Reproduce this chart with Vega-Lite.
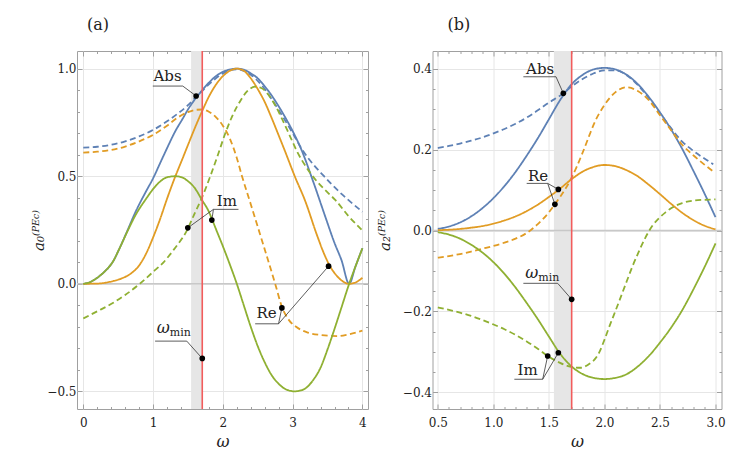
{
  "$schema": "https://vega.github.io/schema/vega-lite/v6.json",
  "padding": {"left": 31, "top": 16, "right": 5, "bottom": 5},
  "spacing": 6.5,
  "config": {
    "view": {"stroke": "#a0a0a0", "strokeWidth": 1},
    "font": "DejaVu Serif",
    "axis": {
      "domain": false,
      "labelFont": "DejaVu Serif",
      "labelFontSize": 12,
      "labelColor": "#222222",
      "tickColor": "#a0a0a0",
      "tickSize": -5,
      "gridColor": "#e6e6e6",
      "titleFont": "DejaVu Serif",
      "titleFontWeight": "normal",
      "titleColor": "#222222",
      "labelFlush": false,
      "labelOverlap": false
    },
    "title": {"font": "DejaVu Serif", "fontSize": 16, "fontWeight": "normal", "color": "#222222"},
    "text": {"font": "DejaVu Serif", "color": "#222222"}
  },
  "datasets": {
    "curvesA": [
      {"w":0,"v":0.633,"part":"Abs","kind":"approx"},{"w":0.2,"v":0.637,"part":"Abs","kind":"approx"},{"w":0.4,"v":0.646,"part":"Abs","kind":"approx"},{"w":0.6,"v":0.662,"part":"Abs","kind":"approx"},{"w":0.8,"v":0.685,"part":"Abs","kind":"approx"},{"w":1.0,"v":0.715,"part":"Abs","kind":"approx"},{"w":1.2,"v":0.755,"part":"Abs","kind":"approx"},{"w":1.35,"v":0.79,"part":"Abs","kind":"approx"},{"w":1.5,"v":0.83,"part":"Abs","kind":"approx"},{"w":1.62,"v":0.87,"part":"Abs","kind":"approx"},{"w":1.7,"v":0.895,"part":"Abs","kind":"approx"},{"w":1.8,"v":0.927,"part":"Abs","kind":"approx"},{"w":1.9,"v":0.955,"part":"Abs","kind":"approx"},{"w":2.0,"v":0.977,"part":"Abs","kind":"approx"},{"w":2.1,"v":0.992,"part":"Abs","kind":"approx"},{"w":2.2,"v":0.997,"part":"Abs","kind":"approx"},{"w":2.3,"v":0.99,"part":"Abs","kind":"approx"},{"w":2.4,"v":0.972,"part":"Abs","kind":"approx"},{"w":2.5,"v":0.943,"part":"Abs","kind":"approx"},{"w":2.6,"v":0.905,"part":"Abs","kind":"approx"},{"w":2.7,"v":0.858,"part":"Abs","kind":"approx"},{"w":2.8,"v":0.808,"part":"Abs","kind":"approx"},{"w":2.9,"v":0.755,"part":"Abs","kind":"approx"},{"w":3.0,"v":0.7,"part":"Abs","kind":"approx"},{"w":3.15,"v":0.617,"part":"Abs","kind":"approx"},{"w":3.3,"v":0.553,"part":"Abs","kind":"approx"},{"w":3.45,"v":0.5,"part":"Abs","kind":"approx"},{"w":3.56,"v":0.462,"part":"Abs","kind":"approx"},{"w":3.7,"v":0.418,"part":"Abs","kind":"approx"},{"w":3.85,"v":0.375,"part":"Abs","kind":"approx"},{"w":4.0,"v":0.335,"part":"Abs","kind":"approx"},
      {"w":0,"v":0,"part":"Abs","kind":"exact"},{"w":0.1,"v":0.008,"part":"Abs","kind":"exact"},{"w":0.2,"v":0.028,"part":"Abs","kind":"exact"},{"w":0.3,"v":0.055,"part":"Abs","kind":"exact"},{"w":0.43,"v":0.106,"part":"Abs","kind":"exact"},{"w":0.52,"v":0.165,"part":"Abs","kind":"exact"},{"w":0.62,"v":0.238,"part":"Abs","kind":"exact"},{"w":0.75,"v":0.335,"part":"Abs","kind":"exact"},{"w":0.9,"v":0.43,"part":"Abs","kind":"exact"},{"w":1.0,"v":0.49,"part":"Abs","kind":"exact"},{"w":1.1,"v":0.56,"part":"Abs","kind":"exact"},{"w":1.2,"v":0.63,"part":"Abs","kind":"exact"},{"w":1.32,"v":0.71,"part":"Abs","kind":"exact"},{"w":1.42,"v":0.765,"part":"Abs","kind":"exact"},{"w":1.5,"v":0.81,"part":"Abs","kind":"exact"},{"w":1.62,"v":0.866,"part":"Abs","kind":"exact"},{"w":1.7,"v":0.898,"part":"Abs","kind":"exact"},{"w":1.8,"v":0.935,"part":"Abs","kind":"exact"},{"w":1.9,"v":0.965,"part":"Abs","kind":"exact"},{"w":2.0,"v":0.985,"part":"Abs","kind":"exact"},{"w":2.1,"v":0.996,"part":"Abs","kind":"exact"},{"w":2.2,"v":1.0,"part":"Abs","kind":"exact"},{"w":2.3,"v":0.995,"part":"Abs","kind":"exact"},{"w":2.4,"v":0.978,"part":"Abs","kind":"exact"},{"w":2.5,"v":0.955,"part":"Abs","kind":"exact"},{"w":2.6,"v":0.918,"part":"Abs","kind":"exact"},{"w":2.7,"v":0.875,"part":"Abs","kind":"exact"},{"w":2.8,"v":0.825,"part":"Abs","kind":"exact"},{"w":2.9,"v":0.77,"part":"Abs","kind":"exact"},{"w":3.0,"v":0.71,"part":"Abs","kind":"exact"},{"w":3.13,"v":0.62,"part":"Abs","kind":"exact"},{"w":3.3,"v":0.47,"part":"Abs","kind":"exact"},{"w":3.47,"v":0.31,"part":"Abs","kind":"exact"},{"w":3.6,"v":0.19,"part":"Abs","kind":"exact"},{"w":3.7,"v":0.11,"part":"Abs","kind":"exact"},{"w":3.81,"v":0.0,"part":"Abs","kind":"exact"},{"w":3.9,"v":0.08,"part":"Abs","kind":"exact"},{"w":4.0,"v":0.165,"part":"Abs","kind":"exact"},
      {"w":0,"v":0.61,"part":"Re","kind":"approx"},{"w":0.2,"v":0.614,"part":"Re","kind":"approx"},{"w":0.4,"v":0.622,"part":"Re","kind":"approx"},{"w":0.6,"v":0.638,"part":"Re","kind":"approx"},{"w":0.8,"v":0.662,"part":"Re","kind":"approx"},{"w":1.0,"v":0.692,"part":"Re","kind":"approx"},{"w":1.2,"v":0.735,"part":"Re","kind":"approx"},{"w":1.35,"v":0.772,"part":"Re","kind":"approx"},{"w":1.5,"v":0.798,"part":"Re","kind":"approx"},{"w":1.6,"v":0.808,"part":"Re","kind":"approx"},{"w":1.7,"v":0.81,"part":"Re","kind":"approx"},{"w":1.8,"v":0.8,"part":"Re","kind":"approx"},{"w":1.9,"v":0.775,"part":"Re","kind":"approx"},{"w":2.0,"v":0.735,"part":"Re","kind":"approx"},{"w":2.1,"v":0.675,"part":"Re","kind":"approx"},{"w":2.2,"v":0.585,"part":"Re","kind":"approx"},{"w":2.27,"v":0.505,"part":"Re","kind":"approx"},{"w":2.4,"v":0.37,"part":"Re","kind":"approx"},{"w":2.5,"v":0.265,"part":"Re","kind":"approx"},{"w":2.6,"v":0.16,"part":"Re","kind":"approx"},{"w":2.75,"v":0.0,"part":"Re","kind":"approx"},{"w":2.85,"v":-0.11,"part":"Re","kind":"approx"},{"w":2.95,"v":-0.17,"part":"Re","kind":"approx"},{"w":3.05,"v":-0.2,"part":"Re","kind":"approx"},{"w":3.2,"v":-0.225,"part":"Re","kind":"approx"},{"w":3.4,"v":-0.238,"part":"Re","kind":"approx"},{"w":3.64,"v":-0.243,"part":"Re","kind":"approx"},{"w":3.8,"v":-0.235,"part":"Re","kind":"approx"},{"w":4.0,"v":-0.218,"part":"Re","kind":"approx"},
      {"w":0,"v":0,"part":"Re","kind":"exact"},{"w":0.2,"v":0.001,"part":"Re","kind":"exact"},{"w":0.43,"v":0.013,"part":"Re","kind":"exact"},{"w":0.55,"v":0.025,"part":"Re","kind":"exact"},{"w":0.67,"v":0.045,"part":"Re","kind":"exact"},{"w":0.8,"v":0.085,"part":"Re","kind":"exact"},{"w":0.9,"v":0.14,"part":"Re","kind":"exact"},{"w":1.0,"v":0.215,"part":"Re","kind":"exact"},{"w":1.1,"v":0.3,"part":"Re","kind":"exact"},{"w":1.2,"v":0.395,"part":"Re","kind":"exact"},{"w":1.32,"v":0.5,"part":"Re","kind":"exact"},{"w":1.42,"v":0.58,"part":"Re","kind":"exact"},{"w":1.5,"v":0.645,"part":"Re","kind":"exact"},{"w":1.6,"v":0.725,"part":"Re","kind":"exact"},{"w":1.7,"v":0.8,"part":"Re","kind":"exact"},{"w":1.8,"v":0.87,"part":"Re","kind":"exact"},{"w":1.9,"v":0.925,"part":"Re","kind":"exact"},{"w":2.0,"v":0.965,"part":"Re","kind":"exact"},{"w":2.1,"v":0.99,"part":"Re","kind":"exact"},{"w":2.2,"v":1.0,"part":"Re","kind":"exact"},{"w":2.3,"v":0.99,"part":"Re","kind":"exact"},{"w":2.4,"v":0.955,"part":"Re","kind":"exact"},{"w":2.5,"v":0.905,"part":"Re","kind":"exact"},{"w":2.6,"v":0.845,"part":"Re","kind":"exact"},{"w":2.7,"v":0.77,"part":"Re","kind":"exact"},{"w":2.8,"v":0.69,"part":"Re","kind":"exact"},{"w":2.89,"v":0.617,"part":"Re","kind":"exact"},{"w":3.03,"v":0.5,"part":"Re","kind":"exact"},{"w":3.18,"v":0.385,"part":"Re","kind":"exact"},{"w":3.35,"v":0.225,"part":"Re","kind":"exact"},{"w":3.45,"v":0.14,"part":"Re","kind":"exact"},{"w":3.53,"v":0.085,"part":"Re","kind":"exact"},{"w":3.62,"v":0.042,"part":"Re","kind":"exact"},{"w":3.7,"v":0.016,"part":"Re","kind":"exact"},{"w":3.81,"v":0.0,"part":"Re","kind":"exact"},{"w":3.9,"v":0.006,"part":"Re","kind":"exact"},{"w":4.0,"v":0.028,"part":"Re","kind":"exact"},
      {"w":0,"v":-0.161,"part":"Im","kind":"approx"},{"w":0.2,"v":-0.128,"part":"Im","kind":"approx"},{"w":0.43,"v":-0.088,"part":"Im","kind":"approx"},{"w":0.6,"v":-0.052,"part":"Im","kind":"approx"},{"w":0.81,"v":0.0,"part":"Im","kind":"approx"},{"w":1.0,"v":0.055,"part":"Im","kind":"approx"},{"w":1.15,"v":0.1,"part":"Im","kind":"approx"},{"w":1.3,"v":0.16,"part":"Im","kind":"approx"},{"w":1.48,"v":0.245,"part":"Im","kind":"approx"},{"w":1.6,"v":0.33,"part":"Im","kind":"approx"},{"w":1.7,"v":0.4,"part":"Im","kind":"approx"},{"w":1.82,"v":0.5,"part":"Im","kind":"approx"},{"w":1.93,"v":0.6,"part":"Im","kind":"approx"},{"w":2.03,"v":0.695,"part":"Im","kind":"approx"},{"w":2.15,"v":0.79,"part":"Im","kind":"approx"},{"w":2.25,"v":0.85,"part":"Im","kind":"approx"},{"w":2.35,"v":0.895,"part":"Im","kind":"approx"},{"w":2.46,"v":0.916,"part":"Im","kind":"approx"},{"w":2.55,"v":0.91,"part":"Im","kind":"approx"},{"w":2.65,"v":0.88,"part":"Im","kind":"approx"},{"w":2.75,"v":0.83,"part":"Im","kind":"approx"},{"w":2.85,"v":0.765,"part":"Im","kind":"approx"},{"w":2.95,"v":0.695,"part":"Im","kind":"approx"},{"w":3.06,"v":0.617,"part":"Im","kind":"approx"},{"w":3.2,"v":0.54,"part":"Im","kind":"approx"},{"w":3.35,"v":0.475,"part":"Im","kind":"approx"},{"w":3.5,"v":0.425,"part":"Im","kind":"approx"},{"w":3.61,"v":0.39,"part":"Im","kind":"approx"},{"w":3.8,"v":0.315,"part":"Im","kind":"approx"},{"w":4.0,"v":0.248,"part":"Im","kind":"approx"},
      {"w":0,"v":0,"part":"Im","kind":"exact"},{"w":0.1,"v":0.008,"part":"Im","kind":"exact"},{"w":0.2,"v":0.028,"part":"Im","kind":"exact"},{"w":0.3,"v":0.055,"part":"Im","kind":"exact"},{"w":0.43,"v":0.106,"part":"Im","kind":"exact"},{"w":0.52,"v":0.165,"part":"Im","kind":"exact"},{"w":0.62,"v":0.235,"part":"Im","kind":"exact"},{"w":0.75,"v":0.32,"part":"Im","kind":"exact"},{"w":0.9,"v":0.395,"part":"Im","kind":"exact"},{"w":1.0,"v":0.44,"part":"Im","kind":"exact"},{"w":1.1,"v":0.475,"part":"Im","kind":"exact"},{"w":1.2,"v":0.495,"part":"Im","kind":"exact"},{"w":1.32,"v":0.5,"part":"Im","kind":"exact"},{"w":1.42,"v":0.494,"part":"Im","kind":"exact"},{"w":1.5,"v":0.477,"part":"Im","kind":"exact"},{"w":1.6,"v":0.444,"part":"Im","kind":"exact"},{"w":1.7,"v":0.39,"part":"Im","kind":"exact"},{"w":1.8,"v":0.335,"part":"Im","kind":"exact"},{"w":1.85,"v":0.296,"part":"Im","kind":"exact"},{"w":1.9,"v":0.255,"part":"Im","kind":"exact"},{"w":2.0,"v":0.175,"part":"Im","kind":"exact"},{"w":2.1,"v":0.09,"part":"Im","kind":"exact"},{"w":2.2,"v":0.0,"part":"Im","kind":"exact"},{"w":2.3,"v":-0.1,"part":"Im","kind":"exact"},{"w":2.4,"v":-0.2,"part":"Im","kind":"exact"},{"w":2.5,"v":-0.29,"part":"Im","kind":"exact"},{"w":2.6,"v":-0.365,"part":"Im","kind":"exact"},{"w":2.7,"v":-0.425,"part":"Im","kind":"exact"},{"w":2.8,"v":-0.465,"part":"Im","kind":"exact"},{"w":2.9,"v":-0.49,"part":"Im","kind":"exact"},{"w":3.03,"v":-0.5,"part":"Im","kind":"exact"},{"w":3.1,"v":-0.497,"part":"Im","kind":"exact"},{"w":3.18,"v":-0.487,"part":"Im","kind":"exact"},{"w":3.3,"v":-0.445,"part":"Im","kind":"exact"},{"w":3.4,"v":-0.39,"part":"Im","kind":"exact"},{"w":3.5,"v":-0.305,"part":"Im","kind":"exact"},{"w":3.6,"v":-0.21,"part":"Im","kind":"exact"},{"w":3.7,"v":-0.11,"part":"Im","kind":"exact"},{"w":3.81,"v":0.0,"part":"Im","kind":"exact"},{"w":3.9,"v":0.08,"part":"Im","kind":"exact"},{"w":4.0,"v":0.165,"part":"Im","kind":"exact"}
    ],
    "curvesB": [
      {"w":0.5,"v":0.204,"part":"Abs","kind":"approx"},{"w":0.6,"v":0.209,"part":"Abs","kind":"approx"},{"w":0.7,"v":0.215,"part":"Abs","kind":"approx"},{"w":0.8,"v":0.222,"part":"Abs","kind":"approx"},{"w":0.9,"v":0.23,"part":"Abs","kind":"approx"},{"w":1.0,"v":0.24,"part":"Abs","kind":"approx"},{"w":1.1,"v":0.251,"part":"Abs","kind":"approx"},{"w":1.2,"v":0.264,"part":"Abs","kind":"approx"},{"w":1.3,"v":0.279,"part":"Abs","kind":"approx"},{"w":1.4,"v":0.297,"part":"Abs","kind":"approx"},{"w":1.5,"v":0.316,"part":"Abs","kind":"approx"},{"w":1.63,"v":0.339,"part":"Abs","kind":"approx"},{"w":1.7,"v":0.355,"part":"Abs","kind":"approx"},{"w":1.8,"v":0.374,"part":"Abs","kind":"approx"},{"w":1.9,"v":0.388,"part":"Abs","kind":"approx"},{"w":2.0,"v":0.396,"part":"Abs","kind":"approx"},{"w":2.1,"v":0.396,"part":"Abs","kind":"approx"},{"w":2.2,"v":0.384,"part":"Abs","kind":"approx"},{"w":2.3,"v":0.36,"part":"Abs","kind":"approx"},{"w":2.4,"v":0.327,"part":"Abs","kind":"approx"},{"w":2.5,"v":0.29,"part":"Abs","kind":"approx"},{"w":2.6,"v":0.253,"part":"Abs","kind":"approx"},{"w":2.66,"v":0.232,"part":"Abs","kind":"approx"},{"w":2.7,"v":0.22,"part":"Abs","kind":"approx"},{"w":2.8,"v":0.197,"part":"Abs","kind":"approx"},{"w":2.9,"v":0.178,"part":"Abs","kind":"approx"},{"w":2.98,"v":0.164,"part":"Abs","kind":"approx"},
      {"w":0.5,"v":0.004,"part":"Abs","kind":"exact"},{"w":0.6,"v":0.01,"part":"Abs","kind":"exact"},{"w":0.7,"v":0.02,"part":"Abs","kind":"exact"},{"w":0.8,"v":0.035,"part":"Abs","kind":"exact"},{"w":0.9,"v":0.055,"part":"Abs","kind":"exact"},{"w":1.0,"v":0.08,"part":"Abs","kind":"exact"},{"w":1.1,"v":0.11,"part":"Abs","kind":"exact"},{"w":1.2,"v":0.145,"part":"Abs","kind":"exact"},{"w":1.3,"v":0.185,"part":"Abs","kind":"exact"},{"w":1.4,"v":0.228,"part":"Abs","kind":"exact"},{"w":1.5,"v":0.275,"part":"Abs","kind":"exact"},{"w":1.6,"v":0.322,"part":"Abs","kind":"exact"},{"w":1.7,"v":0.36,"part":"Abs","kind":"exact"},{"w":1.8,"v":0.384,"part":"Abs","kind":"exact"},{"w":1.9,"v":0.398,"part":"Abs","kind":"exact"},{"w":2.0,"v":0.402,"part":"Abs","kind":"exact"},{"w":2.1,"v":0.398,"part":"Abs","kind":"exact"},{"w":2.2,"v":0.385,"part":"Abs","kind":"exact"},{"w":2.3,"v":0.362,"part":"Abs","kind":"exact"},{"w":2.4,"v":0.33,"part":"Abs","kind":"exact"},{"w":2.5,"v":0.292,"part":"Abs","kind":"exact"},{"w":2.6,"v":0.25,"part":"Abs","kind":"exact"},{"w":2.7,"v":0.202,"part":"Abs","kind":"exact"},{"w":2.8,"v":0.148,"part":"Abs","kind":"exact"},{"w":2.9,"v":0.092,"part":"Abs","kind":"exact"},{"w":3.0,"v":0.033,"part":"Abs","kind":"exact"},
      {"w":0.5,"v":-0.067,"part":"Re","kind":"approx"},{"w":0.6,"v":-0.063,"part":"Re","kind":"approx"},{"w":0.7,"v":-0.058,"part":"Re","kind":"approx"},{"w":0.8,"v":-0.052,"part":"Re","kind":"approx"},{"w":0.9,"v":-0.045,"part":"Re","kind":"approx"},{"w":1.0,"v":-0.038,"part":"Re","kind":"approx"},{"w":1.1,"v":-0.03,"part":"Re","kind":"approx"},{"w":1.2,"v":-0.02,"part":"Re","kind":"approx"},{"w":1.3,"v":-0.006,"part":"Re","kind":"approx"},{"w":1.4,"v":0.016,"part":"Re","kind":"approx"},{"w":1.5,"v":0.045,"part":"Re","kind":"approx"},{"w":1.554,"v":0.065,"part":"Re","kind":"approx"},{"w":1.6,"v":0.083,"part":"Re","kind":"approx"},{"w":1.7,"v":0.128,"part":"Re","kind":"approx"},{"w":1.8,"v":0.19,"part":"Re","kind":"approx"},{"w":1.864,"v":0.235,"part":"Re","kind":"approx"},{"w":1.9,"v":0.26,"part":"Re","kind":"approx"},{"w":2.0,"v":0.31,"part":"Re","kind":"approx"},{"w":2.1,"v":0.342,"part":"Re","kind":"approx"},{"w":2.194,"v":0.354,"part":"Re","kind":"approx"},{"w":2.3,"v":0.345,"part":"Re","kind":"approx"},{"w":2.4,"v":0.322,"part":"Re","kind":"approx"},{"w":2.5,"v":0.285,"part":"Re","kind":"approx"},{"w":2.6,"v":0.248,"part":"Re","kind":"approx"},{"w":2.7,"v":0.212,"part":"Re","kind":"approx"},{"w":2.8,"v":0.186,"part":"Re","kind":"approx"},{"w":2.9,"v":0.163,"part":"Re","kind":"approx"},{"w":2.975,"v":0.147,"part":"Re","kind":"approx"},
      {"w":0.5,"v":0.001,"part":"Re","kind":"exact"},{"w":0.6,"v":0.002,"part":"Re","kind":"exact"},{"w":0.7,"v":0.004,"part":"Re","kind":"exact"},{"w":0.8,"v":0.007,"part":"Re","kind":"exact"},{"w":0.9,"v":0.011,"part":"Re","kind":"exact"},{"w":1.0,"v":0.017,"part":"Re","kind":"exact"},{"w":1.1,"v":0.025,"part":"Re","kind":"exact"},{"w":1.2,"v":0.035,"part":"Re","kind":"exact"},{"w":1.3,"v":0.048,"part":"Re","kind":"exact"},{"w":1.4,"v":0.064,"part":"Re","kind":"exact"},{"w":1.5,"v":0.083,"part":"Re","kind":"exact"},{"w":1.584,"v":0.1,"part":"Re","kind":"exact"},{"w":1.7,"v":0.126,"part":"Re","kind":"exact"},{"w":1.8,"v":0.145,"part":"Re","kind":"exact"},{"w":1.9,"v":0.157,"part":"Re","kind":"exact"},{"w":2.0,"v":0.162,"part":"Re","kind":"exact"},{"w":2.1,"v":0.159,"part":"Re","kind":"exact"},{"w":2.2,"v":0.149,"part":"Re","kind":"exact"},{"w":2.3,"v":0.134,"part":"Re","kind":"exact"},{"w":2.4,"v":0.113,"part":"Re","kind":"exact"},{"w":2.5,"v":0.09,"part":"Re","kind":"exact"},{"w":2.6,"v":0.066,"part":"Re","kind":"exact"},{"w":2.7,"v":0.044,"part":"Re","kind":"exact"},{"w":2.8,"v":0.026,"part":"Re","kind":"exact"},{"w":2.9,"v":0.012,"part":"Re","kind":"exact"},{"w":3.0,"v":0.003,"part":"Re","kind":"exact"},
      {"w":0.5,"v":-0.19,"part":"Im","kind":"approx"},{"w":0.6,"v":-0.196,"part":"Im","kind":"approx"},{"w":0.7,"v":-0.203,"part":"Im","kind":"approx"},{"w":0.8,"v":-0.211,"part":"Im","kind":"approx"},{"w":0.9,"v":-0.221,"part":"Im","kind":"approx"},{"w":1.0,"v":-0.232,"part":"Im","kind":"approx"},{"w":1.1,"v":-0.244,"part":"Im","kind":"approx"},{"w":1.2,"v":-0.258,"part":"Im","kind":"approx"},{"w":1.3,"v":-0.274,"part":"Im","kind":"approx"},{"w":1.4,"v":-0.292,"part":"Im","kind":"approx"},{"w":1.49,"v":-0.31,"part":"Im","kind":"approx"},{"w":1.6,"v":-0.327,"part":"Im","kind":"approx"},{"w":1.7,"v":-0.337,"part":"Im","kind":"approx"},{"w":1.78,"v":-0.339,"part":"Im","kind":"approx"},{"w":1.85,"v":-0.332,"part":"Im","kind":"approx"},{"w":1.95,"v":-0.303,"part":"Im","kind":"approx"},{"w":2.0,"v":-0.27,"part":"Im","kind":"approx"},{"w":2.05,"v":-0.233,"part":"Im","kind":"approx"},{"w":2.1,"v":-0.198,"part":"Im","kind":"approx"},{"w":2.2,"v":-0.126,"part":"Im","kind":"approx"},{"w":2.25,"v":-0.09,"part":"Im","kind":"approx"},{"w":2.3,"v":-0.058,"part":"Im","kind":"approx"},{"w":2.37,"v":-0.017,"part":"Im","kind":"approx"},{"w":2.43,"v":0.011,"part":"Im","kind":"approx"},{"w":2.5,"v":0.033,"part":"Im","kind":"approx"},{"w":2.55,"v":0.045,"part":"Im","kind":"approx"},{"w":2.6,"v":0.055,"part":"Im","kind":"approx"},{"w":2.7,"v":0.068,"part":"Im","kind":"approx"},{"w":2.8,"v":0.074,"part":"Im","kind":"approx"},{"w":2.9,"v":0.076,"part":"Im","kind":"approx"},{"w":3.0,"v":0.077,"part":"Im","kind":"approx"},
      {"w":0.5,"v":-0.004,"part":"Im","kind":"exact"},{"w":0.6,"v":-0.01,"part":"Im","kind":"exact"},{"w":0.7,"v":-0.02,"part":"Im","kind":"exact"},{"w":0.8,"v":-0.035,"part":"Im","kind":"exact"},{"w":0.9,"v":-0.054,"part":"Im","kind":"exact"},{"w":1.0,"v":-0.078,"part":"Im","kind":"exact"},{"w":1.1,"v":-0.107,"part":"Im","kind":"exact"},{"w":1.2,"v":-0.141,"part":"Im","kind":"exact"},{"w":1.3,"v":-0.179,"part":"Im","kind":"exact"},{"w":1.4,"v":-0.219,"part":"Im","kind":"exact"},{"w":1.5,"v":-0.262,"part":"Im","kind":"exact"},{"w":1.6,"v":-0.304,"part":"Im","kind":"exact"},{"w":1.7,"v":-0.335,"part":"Im","kind":"exact"},{"w":1.8,"v":-0.354,"part":"Im","kind":"exact"},{"w":1.9,"v":-0.364,"part":"Im","kind":"exact"},{"w":2.0,"v":-0.367,"part":"Im","kind":"exact"},{"w":2.1,"v":-0.364,"part":"Im","kind":"exact"},{"w":2.2,"v":-0.355,"part":"Im","kind":"exact"},{"w":2.3,"v":-0.336,"part":"Im","kind":"exact"},{"w":2.4,"v":-0.31,"part":"Im","kind":"exact"},{"w":2.5,"v":-0.277,"part":"Im","kind":"exact"},{"w":2.6,"v":-0.24,"part":"Im","kind":"exact"},{"w":2.7,"v":-0.197,"part":"Im","kind":"exact"},{"w":2.8,"v":-0.146,"part":"Im","kind":"exact"},{"w":2.9,"v":-0.091,"part":"Im","kind":"exact"},{"w":3.0,"v":-0.032,"part":"Im","kind":"exact"}
    ],
    "leadA": [
      {"x":0.996,"y":0.919,"x2":1.426,"y2":0.919},{"x":1.426,"y":0.919,"x2":1.617,"y2":0.873},
      {"x":1.865,"y":0.346,"x2":2.224,"y2":0.346},{"x":1.865,"y":0.346,"x2":1.498,"y2":0.26},{"x":1.865,"y":0.346,"x2":1.842,"y2":0.296},
      {"x":1.029,"y":-0.2665,"x2":1.483,"y2":-0.2665},{"x":1.483,"y":-0.2665,"x2":1.705,"y2":-0.347},
      {"x":2.463,"y":-0.186,"x2":2.798,"y2":-0.186},{"x":2.798,"y":-0.186,"x2":2.846,"y2":-0.112},{"x":2.798,"y":-0.186,"x2":3.515,"y2":0.082}
    ],
    "dotA": [
      {"x":1.617,"y":0.873},{"x":1.498,"y":0.26},{"x":1.842,"y":0.296},{"x":1.705,"y":-0.347},{"x":2.846,"y":-0.112},{"x":3.515,"y":0.082}
    ],
    "textA": [
      {"x":1.208,"y":0.943,"label":"Abs"},{"x":2.057,"y":0.361,"label":"Im"},{"x":2.626,"y":-0.161,"label":"Re"}
    ],
    "omegaA": [{"x":1.053,"y":-0.228}],
    "leadB": [
      {"x":1.27,"y":0.38,"x2":1.564,"y2":0.38},{"x":1.564,"y":0.38,"x2":1.63,"y2":0.339},
      {"x":1.3,"y":0.1165,"x2":1.489,"y2":0.1165},{"x":1.489,"y":0.1165,"x2":1.585,"y2":0.1017},{"x":1.489,"y":0.1165,"x2":1.554,"y2":0.0647},
      {"x":1.27,"y":-0.1304,"x2":1.579,"y2":-0.1304},{"x":1.579,"y":-0.1304,"x2":1.705,"y2":-0.17},
      {"x":1.189,"y":-0.3675,"x2":1.444,"y2":-0.3675},{"x":1.444,"y":-0.3675,"x2":1.489,"y2":-0.31},{"x":1.444,"y":-0.3675,"x2":1.585,"y2":-0.302}
    ],
    "dotB": [
      {"x":1.63,"y":0.339},{"x":1.585,"y":0.1017},{"x":1.554,"y":0.0647},{"x":1.705,"y":-0.17},{"x":1.489,"y":-0.31},{"x":1.585,"y":-0.302}
    ],
    "textB": [
      {"x":1.421,"y":0.3857,"label":"Abs"},{"x":1.403,"y":0.1222,"label":"Re"},{"x":1.308,"y":-0.357,"label":"Im"}
    ],
    "omegaB": [{"x":1.288,"y":-0.1165}]
  },
  "hconcat": [
    {
      "width": 291,
      "height": 358,
      "title": {"text": "(a)", "anchor": "start", "frame": "group", "dx": 10, "offset": 17},
      "resolve": {"axis": {"x": "independent", "y": "independent"}},
      "layer": [
        {
          "data": {"values": [{"lo": 1.545, "hi": 1.705}]},
          "mark": {"type": "rect", "color": "#e6e6e6"},
          "encoding": {
            "x": {
              "field": "lo", "type": "quantitative",
              "scale": {"domain": [-0.09, 4.08], "nice": false, "zero": false},
              "axis": {
                "orient": "bottom", "values": [0, 1, 2, 3, 4], "format": "d",
                "labelPadding": 13, "grid": true,
                "title": "ω", "titleFontStyle": "italic", "titleFontSize": 16, "titlePadding": 5
              }
            },
            "x2": {"field": "hi"}
          }
        },
        {
          "data": {"values": [{"z": 0}]},
          "mark": {"type": "rule", "color": "#c8c8c8", "strokeWidth": 1.5},
          "encoding": {
            "y": {
              "field": "z", "type": "quantitative",
              "scale": {"domain": [-0.582, 1.082], "nice": false, "zero": false},
              "axis": {
                "orient": "left", "values": [-0.5, 0, 0.5, 1], "format": ".1f",
                "labelPadding": 6, "grid": true,
                "title": "a₀⁽ᴾᴱᶜ⁾", "titleFontStyle": "italic", "titleFontSize": 15, "titlePadding": 0
              }
            }
          }
        },
        {
          "data": {"name": "curvesA"},
          "mark": {"type": "line", "strokeWidth": 1.8, "interpolate": "monotone"},
          "encoding": {
            "x": {
              "field": "w", "type": "quantitative",
              "axis": {"orient": "top", "labels": false, "title": null, "grid": false, "minExtent": 0, "values": [0, 1, 2, 3, 4]}
            },
            "y": {
              "field": "v", "type": "quantitative",
              "axis": {"orient": "right", "labels": false, "title": null, "grid": false, "minExtent": 0, "values": [-0.5, 0, 0.5, 1]}
            },
            "color": {"field": "part", "type": "nominal", "scale": {"domain": ["Abs", "Re", "Im"], "range": ["#5E81B5", "#E19C24", "#8FB032"]}, "legend": null},
            "strokeDash": {"field": "kind", "type": "nominal", "scale": {"domain": ["exact", "approx"], "range": [[1, 0], [6, 3.5]]}, "legend": null}
          }
        },
        {
          "data": {"values": [{"xr": 1.705}]},
          "mark": {"type": "rule", "color": "#F25C5C", "strokeWidth": 1.6},
          "encoding": {
            "x": {
              "field": "xr", "type": "quantitative",
              "axis": {"orient": "bottom", "labels": false, "title": null, "grid": false, "minExtent": 0, "tickSize": -2.5,
                "values": [0.2,0.4,0.6,0.8,1.2,1.4,1.6,1.8,2.2,2.4,2.6,2.8,3.2,3.4,3.6,3.8]}
            }
          }
        },
        {
          "data": {"name": "leadA"},
          "mark": {"type": "rule", "color": "#333333", "strokeWidth": 0.8},
          "encoding": {
            "x": {
              "field": "x", "type": "quantitative",
              "axis": {"orient": "top", "labels": false, "title": null, "grid": false, "minExtent": 0, "tickSize": -2.5,
                "values": [0.2,0.4,0.6,0.8,1.2,1.4,1.6,1.8,2.2,2.4,2.6,2.8,3.2,3.4,3.6,3.8]}
            },
            "y": {
              "field": "y", "type": "quantitative",
              "axis": {"orient": "left", "labels": false, "title": null, "grid": false, "minExtent": 0, "tickSize": -2.5,
                "values": [-0.4,-0.3,-0.2,-0.1,0.1,0.2,0.3,0.4,0.6,0.7,0.8,0.9]}
            },
            "x2": {"field": "x2"},
            "y2": {"field": "y2"}
          }
        },
        {
          "data": {"name": "dotA"},
          "mark": {"type": "point", "filled": true, "color": "black", "size": 32, "opacity": 1},
          "encoding": {
            "x": {"field": "x", "type": "quantitative", "axis": null},
            "y": {
              "field": "y", "type": "quantitative",
              "axis": {"orient": "right", "labels": false, "title": null, "grid": false, "minExtent": 0, "tickSize": -2.5,
                "values": [-0.4,-0.3,-0.2,-0.1,0.1,0.2,0.3,0.4,0.6,0.7,0.8,0.9]}
            }
          }
        },
        {
          "data": {"name": "textA"},
          "mark": {"type": "text", "fontSize": 15, "align": "center", "baseline": "alphabetic"},
          "encoding": {
            "x": {"field": "x", "type": "quantitative", "axis": null},
            "y": {"field": "y", "type": "quantitative", "axis": null},
            "text": {"field": "label"}
          }
        },
        {
          "data": {"name": "omegaA"},
          "mark": {"type": "text", "fontSize": 16, "fontStyle": "italic", "align": "left", "baseline": "alphabetic", "text": "ω"},
          "encoding": {
            "x": {"field": "x", "type": "quantitative", "axis": null},
            "y": {"field": "y", "type": "quantitative", "axis": null}
          }
        },
        {
          "data": {"name": "omegaA"},
          "mark": {"type": "text", "fontSize": 11, "align": "left", "baseline": "alphabetic", "dx": 13, "dy": 3, "text": "min"},
          "encoding": {
            "x": {"field": "x", "type": "quantitative", "axis": null},
            "y": {"field": "y", "type": "quantitative", "axis": null}
          }
        }
      ]
    },
    {
      "width": 289,
      "height": 358,
      "title": {"text": "(b)", "anchor": "start", "frame": "group", "dx": 15, "offset": 17},
      "resolve": {"axis": {"x": "independent", "y": "independent"}},
      "layer": [
        {
          "data": {"values": [{"lo": 1.545, "hi": 1.705}]},
          "mark": {"type": "rect", "color": "#e6e6e6"},
          "encoding": {
            "x": {
              "field": "lo", "type": "quantitative",
              "scale": {"domain": [0.452, 3.054], "nice": false, "zero": false},
              "axis": {
                "orient": "bottom", "values": [0.5, 1, 1.5, 2, 2.5, 3], "format": ".1f",
                "labelPadding": 13, "grid": true,
                "title": "ω", "titleFontStyle": "italic", "titleFontSize": 16, "titlePadding": 5
              }
            },
            "x2": {"field": "hi"}
          }
        },
        {
          "data": {"values": [{"z": 0}]},
          "mark": {"type": "rule", "color": "#c8c8c8", "strokeWidth": 1.5},
          "encoding": {
            "y": {
              "field": "z", "type": "quantitative",
              "scale": {"domain": [-0.441, 0.4437], "nice": false, "zero": false},
              "axis": {
                "orient": "left", "values": [-0.4, -0.2, 0, 0.2, 0.4], "format": ".1f",
                "labelPadding": 6, "grid": true,
                "title": "a₂⁽ᴾᴱᶜ⁾", "titleFontStyle": "italic", "titleFontSize": 15, "titlePadding": 10
              }
            }
          }
        },
        {
          "data": {"name": "curvesB"},
          "mark": {"type": "line", "strokeWidth": 1.8, "interpolate": "monotone"},
          "encoding": {
            "x": {
              "field": "w", "type": "quantitative",
              "axis": {"orient": "top", "labels": false, "title": null, "grid": false, "minExtent": 0, "values": [0.5, 1, 1.5, 2, 2.5, 3]}
            },
            "y": {
              "field": "v", "type": "quantitative",
              "axis": {"orient": "right", "labels": false, "title": null, "grid": false, "minExtent": 0, "values": [-0.4, -0.2, 0, 0.2, 0.4]}
            },
            "color": {"field": "part", "type": "nominal", "scale": {"domain": ["Abs", "Re", "Im"], "range": ["#5E81B5", "#E19C24", "#8FB032"]}, "legend": null},
            "strokeDash": {"field": "kind", "type": "nominal", "scale": {"domain": ["exact", "approx"], "range": [[1, 0], [6, 3.5]]}, "legend": null}
          }
        },
        {
          "data": {"values": [{"xr": 1.705}]},
          "mark": {"type": "rule", "color": "#F25C5C", "strokeWidth": 1.6},
          "encoding": {
            "x": {
              "field": "xr", "type": "quantitative",
              "axis": {"orient": "bottom", "labels": false, "title": null, "grid": false, "minExtent": 0, "tickSize": -2.5,
                "values": [0.6,0.7,0.8,0.9,1.1,1.2,1.3,1.4,1.6,1.7,1.8,1.9,2.1,2.2,2.3,2.4,2.6,2.7,2.8,2.9]}
            }
          }
        },
        {
          "data": {"name": "leadB"},
          "mark": {"type": "rule", "color": "#333333", "strokeWidth": 0.8},
          "encoding": {
            "x": {
              "field": "x", "type": "quantitative",
              "axis": {"orient": "top", "labels": false, "title": null, "grid": false, "minExtent": 0, "tickSize": -2.5,
                "values": [0.6,0.7,0.8,0.9,1.1,1.2,1.3,1.4,1.6,1.7,1.8,1.9,2.1,2.2,2.3,2.4,2.6,2.7,2.8,2.9]}
            },
            "y": {
              "field": "y", "type": "quantitative",
              "axis": {"orient": "left", "labels": false, "title": null, "grid": false, "minExtent": 0, "tickSize": -2.5,
                "values": [-0.35,-0.3,-0.25,-0.15,-0.1,-0.05,0.05,0.1,0.15,0.25,0.3,0.35]}
            },
            "x2": {"field": "x2"},
            "y2": {"field": "y2"}
          }
        },
        {
          "data": {"name": "dotB"},
          "mark": {"type": "point", "filled": true, "color": "black", "size": 32, "opacity": 1},
          "encoding": {
            "x": {"field": "x", "type": "quantitative", "axis": null},
            "y": {
              "field": "y", "type": "quantitative",
              "axis": {"orient": "right", "labels": false, "title": null, "grid": false, "minExtent": 0, "tickSize": -2.5,
                "values": [-0.35,-0.3,-0.25,-0.15,-0.1,-0.05,0.05,0.1,0.15,0.25,0.3,0.35]}
            }
          }
        },
        {
          "data": {"name": "textB"},
          "mark": {"type": "text", "fontSize": 15, "align": "center", "baseline": "alphabetic"},
          "encoding": {
            "x": {"field": "x", "type": "quantitative", "axis": null},
            "y": {"field": "y", "type": "quantitative", "axis": null},
            "text": {"field": "label"}
          }
        },
        {
          "data": {"name": "omegaB"},
          "mark": {"type": "text", "fontSize": 16, "fontStyle": "italic", "align": "left", "baseline": "alphabetic", "text": "ω"},
          "encoding": {
            "x": {"field": "x", "type": "quantitative", "axis": null},
            "y": {"field": "y", "type": "quantitative", "axis": null}
          }
        },
        {
          "data": {"name": "omegaB"},
          "mark": {"type": "text", "fontSize": 11, "align": "left", "baseline": "alphabetic", "dx": 13, "dy": 3, "text": "min"},
          "encoding": {
            "x": {"field": "x", "type": "quantitative", "axis": null},
            "y": {"field": "y", "type": "quantitative", "axis": null}
          }
        }
      ]
    }
  ]
}
